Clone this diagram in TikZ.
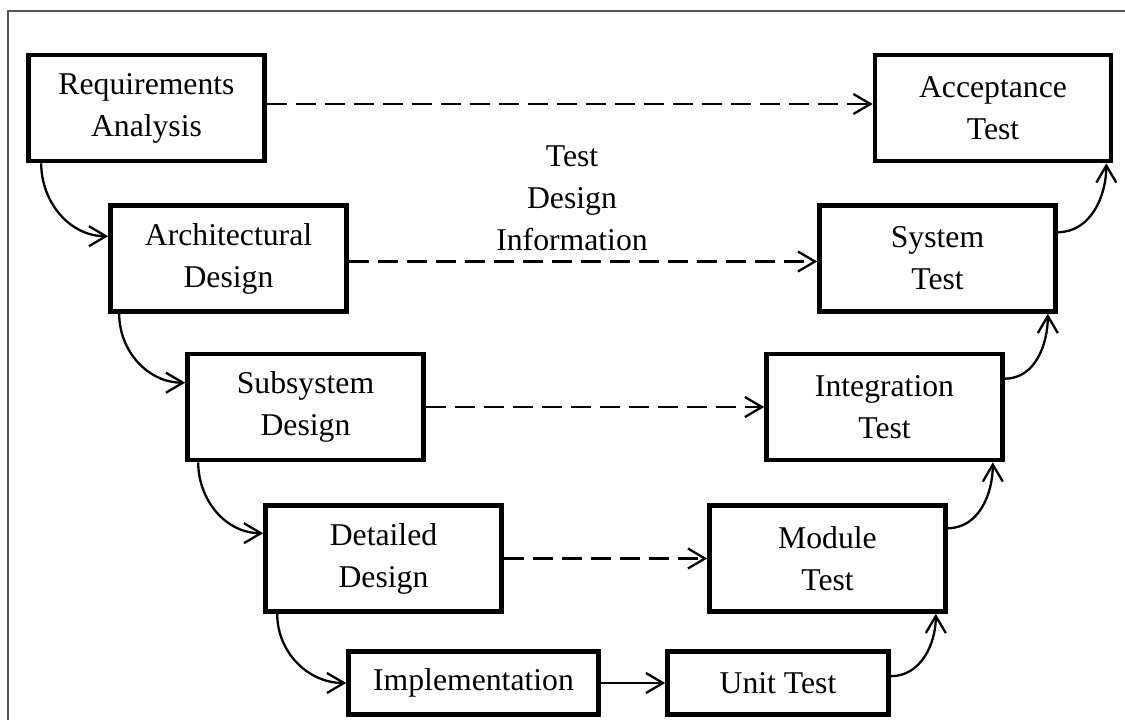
\documentclass[tikz,border=0pt]{standalone}
\usepackage{fontspec}
\setmainfont{Liberation Serif}
\usetikzlibrary{arrows.meta}
\definecolor{framegray}{HTML}{555555}
\begin{document}
\begin{tikzpicture}[x=1pt,y=-1pt,
  stagebox/.style={draw=black, line width=4.6pt, fill=white, align=center,
    minimum width=236pt, minimum height=106pt, inner sep=2pt,
    font=\fontsize{31.7}{42}\selectfont},
  lowbox/.style={stagebox, minimum height=63pt},
  flow/.style={line width=2.3pt, -{Straight Barb[length=17pt,width=20pt]}},
  trace/.style={flow, dash pattern=on 20pt off 9pt},
  lbl/.style={align=center, font=\fontsize{31.7}{42}\selectfont}]
\useasboundingbox (0,0) rectangle (1125,720);
\fill[white] (0,0) rectangle (1125,720);
\draw[framegray, line width=1.4pt] (8,720) -- (8,11) -- (1125,11);

\node[stagebox] (req)   at (146.5,108)   {Requirements\\Analysis};
\node[stagebox] (acc)   at (993,108)     {Acceptance\\Test};
\node[stagebox] (arch)  at (228.5,258.5) {Architectural\\Design};
\node[stagebox] (sys)   at (937.5,258.5) {System\\Test};
\node[stagebox] (sub)   at (305.5,407)   {Subsystem\\Design};
\node[stagebox] (integ) at (884.5,407)   {Integration\\Test};
\node[stagebox] (det)   at (383.5,558.5) {Detailed\\Design};
\node[stagebox] (mod)   at (827.5,558.5) {Module\\Test};
\node[lowbox, minimum width=250pt] (impl) at (473.5,683) {Implementation};
\node[lowbox, minimum width=221pt] (unit) at (778,683)   {Unit Test};

\node[lbl] (info) at (572,198) {Test\\Design\\Information};

% dashed traceability arrows
\draw[trace] ([yshift=4pt]req.east)  -- ([yshift=4pt]acc.west);
\draw[trace] ([yshift=-3pt]arch.east) -- ([yshift=-3pt]sys.west);
\draw[trace] (sub.east)  -- (integ.west);
\draw[trace] (det.east)  -- (mod.west);

% implementation to unit test
\draw[flow] (impl.east) -- (unit.west);

% left descending curves
\draw[flow] ([xshift=15pt]req.south west)  to[out=-90,in=180] ([yshift=-33pt]arch.north west);
\draw[flow] ([xshift=11pt]arch.south west) to[out=-90,in=180] ([yshift=-31pt]sub.north west);
\draw[flow] ([xshift=13pt]sub.south west)  to[out=-90,in=180] ([yshift=-30pt]det.north west);
\draw[flow] ([xshift=14pt]det.south west)  to[out=-90,in=180] (impl.west);

% right ascending curves
\draw[flow] ([yshift=-27pt]unit.north east)  to[out=0,in=-90] ([xshift=-12pt]mod.south east);
\draw[flow] ([yshift=-25pt]mod.north east)   to[out=0,in=-90] ([xshift=-12pt]integ.south east);
\draw[flow] ([yshift=-27pt]integ.north east) to[out=0,in=-90] ([xshift=-10pt]sys.south east);
\draw[flow] ([yshift=-29pt]sys.north east)   to[out=0,in=-90] ([xshift=-7pt]acc.south east);
\end{tikzpicture}
\end{document}
